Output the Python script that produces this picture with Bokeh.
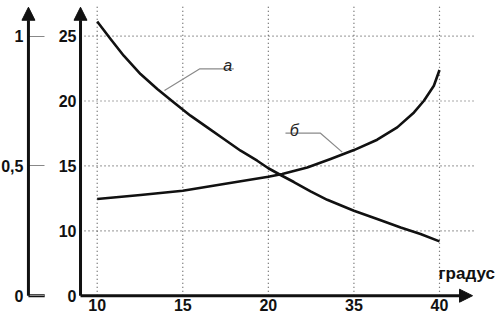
import numpy as np
from bokeh.plotting import figure
from bokeh.models import Range1d, LinearAxis, FixedTicker, Arrow, NormalHead
from bokeh.core.properties import value
from bokeh.embed import file_html
from bokeh.resources import INLINE

# ---- data ----
x_ticks = [10, 15, 20, 35, 40]
x_tick_labels = ["10", "15", "20", "35", "40"]
y_ticks = [0, 10, 15, 20, 25]
y_tick_labels = ["0", "10", "15", "20", "25"]
frac_ticks = [0, 0.5, 1]
frac_labels = ["0", "0,5", "1"]
x_title = "градус"

a_x = [10, 10.78, 11.55, 12.53, 13.51, 14.48, 15.45, 16.43, 17.40, 18.38, 19.35,
       20.0, 22.14, 24.47, 27.40, 30.32, 35.0, 36.36, 37.73, 38.89, 40.0]
a_y = [26.13, 24.78, 23.49, 22.08, 20.92, 19.89, 18.87, 17.97, 17.07, 16.17, 15.40,
       14.82, 14.30, 13.76, 13.04, 12.39, 11.55, 10.91, 10.26, 9.51, 8.37]
b_x = [10, 12.53, 15.0, 17.40, 20.0, 22.43, 26.82, 30.91, 35.0, 36.36, 37.53,
       38.51, 39.09, 39.67, 40.0]
b_y = [12.45, 12.76, 13.09, 13.61, 14.17, 14.38, 14.88, 15.53, 16.22, 17.02, 17.97,
       19.12, 20.02, 21.18, 22.39]

# curve labels and leader lines (degrees, value)
a_label = ("а", 17.36, 22.74)
a_leader = ([13.93, 16.0, 17.98], [20.81, 22.48, 22.48])
b_label = ("б", 23.76, 17.73)
b_leader = ([23.0, 29.14, 32.95], [17.52, 17.52, 16.06])

# ---- broken (piecewise) axes: ticks are equally spaced ----
def piecewise(v, ticks):
    v = np.asarray(v, dtype=float)
    n = len(ticks)
    out = np.interp(v, ticks, np.arange(n))
    hi = v > ticks[-1]
    out[hi] = (n - 1) + (v[hi] - ticks[-1]) / (ticks[-1] - ticks[-2])
    lo = v < ticks[0]
    out[lo] = (v[lo] - ticks[0]) / (ticks[1] - ticks[0])
    return out

def to_x(v):
    return piecewise(np.atleast_1d(v), x_ticks)

def to_y(v):
    return piecewise(np.atleast_1d(v), y_ticks)

FONT = "Liberation Sans"
Y_AXIS_X = -0.195
FRAC_AXIS_X = -0.8035
TOP = 4.445
Y_START, Y_END = -0.305, 4.549

p = figure(width=496, height=315, output_backend="svg", toolbar_location=None,
           x_axis_type=None, y_axis_type=None, min_border=0,
           x_range=Range1d(-1.130, 4.666), y_range=Range1d(Y_START, Y_END))
p.outline_line_color = None
p.background_fill_color = "white"
p.border_fill_color = "white"
p.extra_y_ranges = {"frac": Range1d(Y_START / 4, Y_END / 4)}

# dotted grid
GRID = dict(line_color="#555555", line_width=1.2, line_dash="1 3")
gy = to_y(y_ticks[1:])
p.segment(x0=np.full(len(gy), Y_AXIS_X), y0=gy, x1=np.full(len(gy), 4.42), y1=gy, **GRID)
gx = to_x(x_ticks)
p.segment(x0=gx, y0=np.zeros(len(gx)), x1=gx, y1=np.full(len(gx), 4.5), **GRID)

# curves
p.line(to_x(a_x), to_y(a_y), line_color="#111111", line_width=2.6, line_join="round")
p.line(to_x(b_x), to_y(b_y), line_color="#111111", line_width=2.6, line_join="round")

# leader lines and curve labels
for (lx, ly) in (a_leader, b_leader):
    p.line(to_x(lx), to_y(ly), line_color="#8a8a8a", line_width=1.2)
for (t, tx, ty) in (a_label, b_label):
    p.text(x=to_x(tx), y=to_y(ty), text=[t], text_font=value(FONT),
           text_font_style="italic", text_font_size="16px", text_color="#222222",
           text_align="left", text_baseline="alphabetic")

# x title
p.text(x=to_x(x_ticks[-1]) - 0.012, y=to_y(3.4), text=[x_title],
       text_font=value(FONT), text_font_style="bold", text_font_size="17px",
       text_color="#111111", text_align="left", text_baseline="alphabetic")

# axes (fixed inside the frame)
def style(ax, size="16px"):
    ax.axis_line_color = None
    ax.minor_tick_line_color = None
    ax.major_label_text_font = FONT
    ax.major_label_text_font_style = "bold"
    ax.major_label_text_font_size = size
    ax.major_label_text_color = "#111111"

xpos = [int(i) for i in range(len(x_ticks))]
xa = LinearAxis(fixed_location=0, ticker=FixedTicker(ticks=xpos),
                major_label_overrides={i: l for i, l in zip(xpos, x_tick_labels)})
style(xa)
xa.major_tick_in = 0
xa.major_tick_out = 0
xa.major_label_standoff = 3
p.add_layout(xa, "below")

ypos = [int(i) for i in range(len(y_ticks))]
ya = LinearAxis(fixed_location=Y_AXIS_X, ticker=FixedTicker(ticks=ypos),
                major_label_overrides={i: l for i, l in zip(ypos, y_tick_labels)})
style(ya)
ya.major_tick_in = 0
ya.major_tick_out = 0
ya.major_label_standoff = 4
p.add_layout(ya, "left")

fa = LinearAxis(fixed_location=FRAC_AXIS_X, y_range_name="frac",
                ticker=FixedTicker(ticks=frac_ticks),
                major_label_overrides=dict(zip(frac_ticks, frac_labels)))
style(fa)
fa.major_tick_in = 16
fa.major_tick_out = 0
fa.major_tick_line_color = "#888888"
fa.major_tick_line_width = 1
fa.major_label_standoff = 5
p.add_layout(fa, "left")

# black base tick of the left scale
p.segment(x0=[FRAC_AXIS_X], y0=[0], x1=[FRAC_AXIS_X + 0.19], y1=[0],
          line_color="#111111", line_width=3)

# axis lines with arrowheads
for (xs, ys, xe, ye) in ((Y_AXIS_X, 0, Y_AXIS_X, TOP),
                         (FRAC_AXIS_X, 0, FRAC_AXIS_X, TOP),
                         (Y_AXIS_X, 0, 4.386, 0)):
    p.add_layout(Arrow(end=NormalHead(size=13, fill_color="#111111", line_color="#111111"),
                       x_start=xs, y_start=ys, x_end=xe, y_end=ye,
                       line_color="#111111", line_width=3))

open("out.html", "w").write(file_html(p, INLINE))
